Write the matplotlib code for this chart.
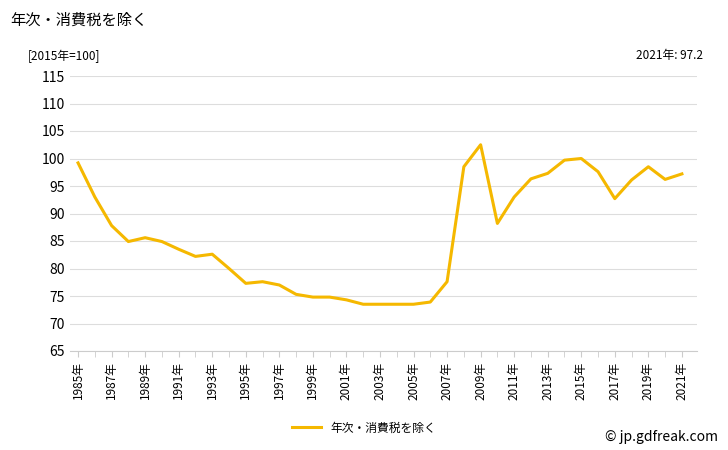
import matplotlib
matplotlib.use("Agg")
from matplotlib import pyplot as plt

plt.rcParams['font.family'] = ['Noto Sans CJK JP', 'DejaVu Sans']

years = list(range(1985, 2022))
values = [99.2, 93.0, 87.8, 84.9, 85.6, 84.9, 83.5, 82.2, 82.6, 80.0,
          77.3, 77.6, 77.0, 75.3, 74.8, 74.8, 74.3, 73.5, 73.5, 73.5,
          73.5, 73.9, 77.6, 98.5, 102.5, 88.2, 93.0, 96.3, 97.3, 99.7,
          100.0, 97.6, 92.7, 96.1, 98.5, 96.2, 97.2]
tick_years = list(range(1985, 2022, 2))

fig = plt.figure(figsize=(7.28, 4.5), dpi=100)
ax = fig.add_axes([70 / 728, 1 - 351 / 450, 627 / 728, 275 / 450])
ax.plot(years, values, color='#f5b800', lw=2.2, label='年次・消費税を除く')
ax.set_ylim(65, 115)
ax.set_yticks(range(65, 116, 5))
ax.set_xlim(1984.52, 2021.9)
ax.set_xticks(tick_years)
ax.set_xticklabels([f'{y}年' for y in tick_years], rotation=90, fontsize=8.5)
ax.set_xticks(years, minor=True)
ax.tick_params(axis='y', length=0, labelsize=10)
ax.tick_params(axis='x', which='both', length=4, color='#cccccc')
ax.grid(axis='y', color='#dddddd', lw=0.8)
for s in ['top', 'right', 'left']:
    ax.spines[s].set_visible(False)
ax.spines['bottom'].set_color('#cccccc')

fig.text(10 / 728, 1 - 20 / 450, '年次・消費税を除く', fontsize=11, va='center')
fig.text(28 / 728, 1 - 56 / 450, '[2015年=100]', fontsize=8.5, va='center')
fig.text(703 / 728, 1 - 56 / 450, '2021年: 97.2', fontsize=8.5, va='center', ha='right')
fig.text(718 / 728, 1 - 437 / 450, '© jp.gdfreak.com', fontsize=10, va='center', ha='right')
fig.legend(loc='center', bbox_to_anchor=(0.5, 1 - 428 / 450), frameon=False,
           fontsize=8.5, handlelength=2.5)
fig.savefig('out.png', dpi=100)
